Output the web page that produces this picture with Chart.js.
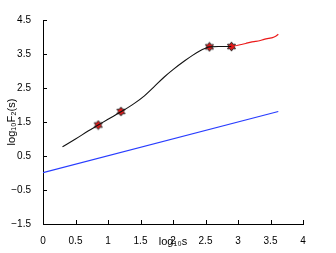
<!DOCTYPE html>
<html>
<head>
<meta charset="utf-8">
<script src="https://cdn.jsdelivr.net/npm/chart.js@4"></script>
<style>
  html, body { margin: 0; padding: 0; background: #fff; }
  #wrap { width: 336px; height: 253px; position: relative; }
</style>
</head>
<body>
<div id="wrap"><canvas id="c" width="336" height="253"></canvas></div>
<script>
// ---- data ----
const fitX = [0.30, 0.50, 0.70, 0.85, 1.00, 1.20, 1.40, 1.56, 1.70, 1.87, 2.00, 2.18, 2.30, 2.41, 2.50, 2.56, 2.70, 2.80, 2.90];
const fitY = [0.77, 1.00, 1.24, 1.41, 1.58, 1.80, 2.04, 2.27, 2.52, 2.83, 3.04, 3.30, 3.46, 3.59, 3.67, 3.71, 3.72, 3.72, 3.72];
const tailX = [2.90, 2.98, 3.05, 3.12, 3.20, 3.27, 3.33, 3.40, 3.47, 3.53, 3.58, 3.62];
const tailY = [3.72, 3.75, 3.78, 3.81, 3.85, 3.87, 3.89, 3.93, 3.96, 3.98, 4.02, 4.08];
const refX = [0.00, 3.62];
const refY = [0.01, 1.81];
const markX = [0.85, 1.20, 2.56, 2.90];
const markY = [1.41, 1.81, 3.71, 3.72];
const xTicks = [0, 0.5, 1, 1.5, 2, 2.5, 3, 3.5, 4];
const xTickLabels = ['0', '0.5', '1', '1.5', '2', '2.5', '3', '3.5', '4'];
const yTicks = [-1.5, -0.5, 0.5, 1.5, 2.5, 3.5, 4.5];
const yTickLabels = ['\u22121.5', '\u22120.5', '0.5', '1.5', '2.5', '3.5', '4.5'];

const pts = (xs, ys) => xs.map((x, i) => ({ x: x, y: ys[i] }));

// hexagram marker
function hexagram() {
  const c = document.createElement('canvas');
  c.width = 11; c.height = 11;
  const g = c.getContext('2d');
  const cx = 5.5, cy = 5.5, ro = 4.6, ri = 2.7;
  g.beginPath();
  for (let i = 0; i < 12; i++) {
    const a = -Math.PI / 2 + i * Math.PI / 6;
    const r = i % 2 === 0 ? ro : ri;
    const px = cx + r * Math.cos(a), py = cy + r * Math.sin(a);
    if (i === 0) g.moveTo(px, py); else g.lineTo(px, py);
  }
  g.closePath();
  g.fillStyle = '#e01818';
  g.fill();
  g.strokeStyle = '#222';
  g.lineWidth = 0.9;
  g.stroke();
  return c;
}
const star = hexagram();

const FONT = 'Liberation Sans, Arial, Helvetica, sans-serif';

const innerTicks = {
  id: 'innerTicks',
  afterDraw(chart) {
    const ctx = chart.ctx;
    const xs = chart.scales.x, ys = chart.scales.y;
    const a = chart.chartArea;
    ctx.save();
    ctx.strokeStyle = '#000';
    ctx.lineWidth = 1;
    ctx.beginPath();
    xTicks.forEach(v => {
      const px = Math.round(xs.getPixelForValue(v)) + 0.5;
      ctx.moveTo(px, a.bottom);
      ctx.lineTo(px, a.bottom - 4);
    });
    yTicks.forEach(v => {
      const py = Math.round(ys.getPixelForValue(v)) + 0.5;
      ctx.moveTo(a.left, py);
      ctx.lineTo(a.left + 4, py);
    });
    ctx.stroke();
    ctx.restore();
  }
};

new Chart(document.getElementById('c'), {
  type: 'scatter',
  data: {
    datasets: [
      { data: pts(refX, refY), showLine: true, borderColor: 'rgb(40,60,255)', borderWidth: 1.2, pointRadius: 0, fill: false },
      { data: pts(tailX, tailY), showLine: true, borderColor: 'rgb(235,25,25)', borderWidth: 1.2, pointRadius: 0, fill: false, tension: 0.2 },
      { data: pts(fitX, fitY), showLine: true, borderColor: '#111', borderWidth: 1.1, pointRadius: 0, fill: false, cubicInterpolationMode: 'monotone' },
      { data: pts(markX, markY), showLine: false, pointStyle: star, pointRadius: 5 }
    ]
  },
  options: {
    responsive: false,
    animation: false,
    layout: { padding: { top: 20, right: 33, left: 0, bottom: 0 } },
    plugins: { legend: { display: false }, tooltip: { enabled: false } },
    scales: {
      x: {
        type: 'linear', min: 0, max: 4,
        grid: { display: false },
        border: { display: true, color: '#000', width: 1 },
        afterBuildTicks: s => { s.ticks = xTicks.map(v => ({ value: v })); },
        afterFit: s => { s.height = 29; },
        ticks: {
          color: '#000', padding: 3, maxRotation: 0, autoSkip: false,
          font: { family: FONT, size: 10 },
          callback: (v) => xTickLabels[xTicks.indexOf(v)]
        },
        title: { display: true, text: 'log\u2081\u2080s', color: '#000', font: { family: FONT, size: 11 }, padding: { top: 0, bottom: 4 } }
      },
      y: {
        type: 'linear', min: -1.5, max: 4.5,
        grid: { display: false },
        border: { display: true, color: '#000', width: 1 },
        afterBuildTicks: s => { s.ticks = yTicks.map(v => ({ value: v })); },
        afterFit: s => { s.width = 43; },
        ticks: {
          color: '#000', padding: 4, autoSkip: false,
          font: { family: FONT, size: 10 },
          callback: (v) => yTickLabels[yTicks.indexOf(v)]
        },
        title: { display: true, text: 'log\u2081\u2080F\u2082(s)', color: '#000', font: { family: FONT, size: 11 }, padding: { top: 5, bottom: 0 } }
      }
    }
  },
  plugins: [innerTicks]
});
</script>
</body>
</html>
